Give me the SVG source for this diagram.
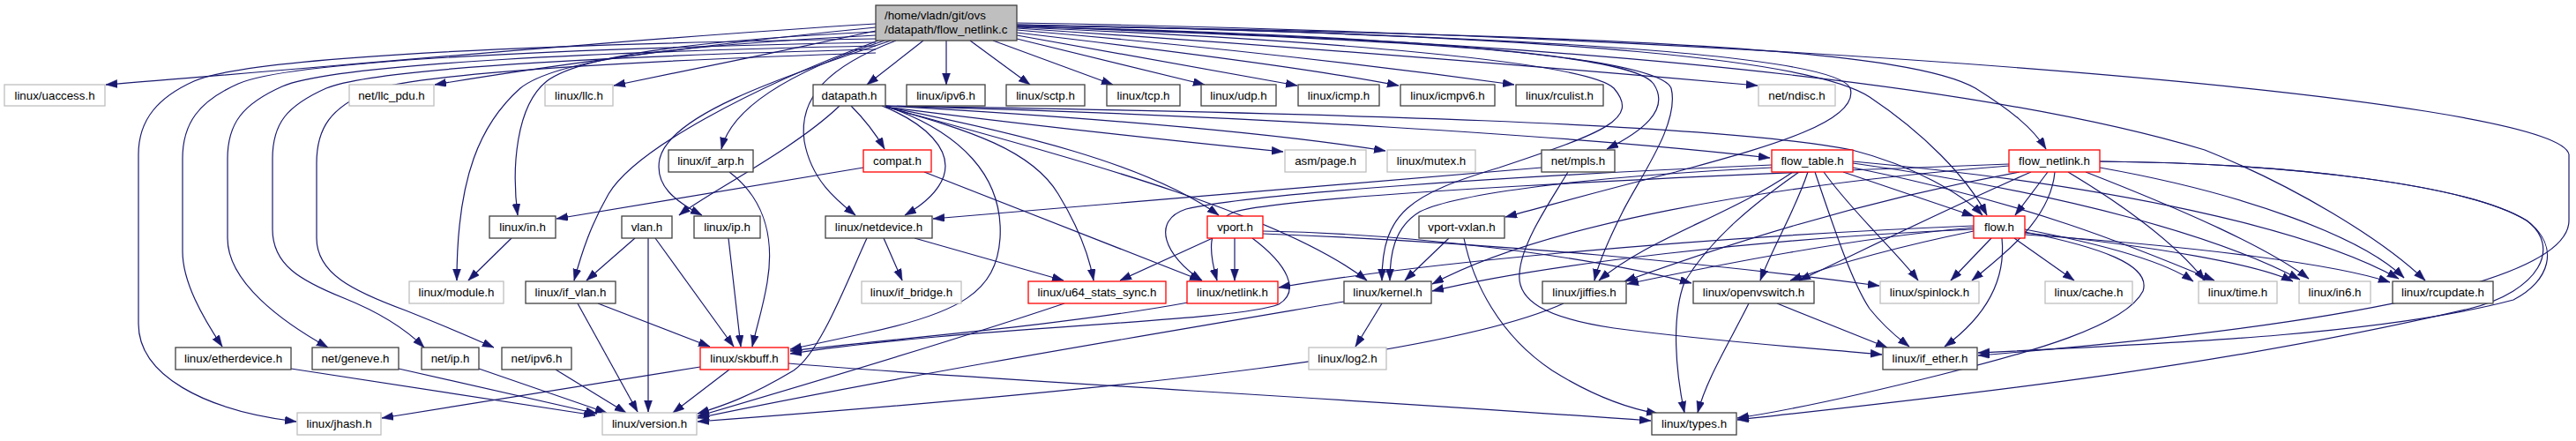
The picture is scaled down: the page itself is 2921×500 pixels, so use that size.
<svg xmlns="http://www.w3.org/2000/svg" width="2921" height="500" viewBox="0 0 2921 500">
<style>
text{font-family:"Liberation Sans",Arial,sans-serif;font-size:13.33px;fill:#000;text-anchor:middle}
.n rect{fill:#fff;stroke:#404040;stroke-width:1.3}
.r rect{fill:#fff;stroke:#ff0000;stroke-width:1.3}
.g rect{fill:#fff;stroke:#bfbfbf;stroke-width:1.3}
#edges path{fill:none;stroke:#191970;stroke-width:1.2;marker-end:url(#ah)}
</style>
<defs>
<marker id="ah" markerUnits="userSpaceOnUse" markerWidth="14" markerHeight="10" refX="13" refY="4.5" orient="auto">
<path d="M0,0 L13,4.5 L0,9 z" fill="#191970" stroke="#191970" stroke-width="0.5"/>
</marker>
</defs>
<rect width="2921" height="500" fill="#fff"/>
<g id="edges">
<path d="M993,27 C700,45 350,78 120,96"/>
<path d="M993,31 C800,50 600,78 493,96"/>
<path d="M993,35 C900,55 780,80 696,97"/>
<path d="M1047,46 L983,96"/>
<path d="M1073,46 L1073,96"/>
<path d="M1100,46 L1168,96"/>
<path d="M1126,46 L1262,96"/>
<path d="M1153,44 L1366,96"/>
<path d="M1153,40 L1471,97"/>
<path d="M1153,37 C1350,60 1500,80 1586,97"/>
<path d="M1153,34 C1400,55 1600,80 1717,96"/>
<path d="M1153,32 C1500,55 1800,80 1993,97"/>
<path d="M1153,29 C1900,40 2170,60 2240,100 C2280,125 2305,145 2320,169"/>
<path d="M1153,30 C1600,45 1850,60 1875,95 C1895,125 1860,150 1822,169"/>
<path d="M1153,31 C1500,45 1800,70 1830,100 C1860,135 1820,150 1700,190 C1600,220 1567,240 1567,318"/>
<path d="M1153,30 C1600,40 1880,65 1895,100 C1905,140 1860,200 1840,240 C1825,270 1812,300 1808,318"/>
<path d="M1153,28 C1700,40 2080,60 2098,100 C2110,140 1990,170 1900,195 C1800,220 1750,235 1707,246"/>
<path d="M1153,26 C2000,40 2900,110 2913,175 L2913,250 C2913,320 2650,370 2243,403"/>
<path d="M1153,30 C1900,50 2300,110 2500,170 C2600,210 2700,270 2750,318"/>
<path d="M1153,28 C1800,40 2060,70 2120,110 C2180,150 2230,200 2253,244"/>
<path d="M993,44 C600,50 280,65 220,92 C180,110 157,135 157,175 L157,367 C157,425 230,465 336,478"/>
<path d="M993,48 C650,55 330,68 270,95 C225,115 207,140 207,180 L207,285 C207,320 230,360 252,393"/>
<path d="M993,52 C700,58 380,72 320,98 C275,118 258,140 258,180 L258,270 C258,320 320,365 372,394"/>
<path d="M993,56 C750,62 430,75 370,100 C325,120 309,140 309,180 L309,260 C309,300 340,318 390,338 C440,358 465,378 481,394"/>
<path d="M993,60 C800,66 480,80 420,103 C375,122 359,145 359,185 L359,270 C359,310 400,330 460,352 C510,372 540,385 560,394"/>
<path d="M993,40 C760,52 630,68 590,100 C545,140 518,200 518,318"/>
<path d="M993,36 C800,45 660,62 620,92 C585,120 580,190 587,244"/>
<path d="M996,46 C850,100 720,170 690,220 C670,255 660,285 651,318"/>
<path d="M1003,46 C900,80 830,120 818,169"/>
<path d="M1010,46 C880,90 760,130 748,180 C742,210 765,228 796,244"/>
<path d="M1016,46 C940,75 905,110 912,160 C920,205 950,228 970,244"/>
<path d="M965,120 C985,140 995,155 1003,169"/>
<path d="M952,120 C900,170 800,220 770,244"/>
<path d="M1000,120 C1050,140 1080,170 1070,200 C1062,222 1040,236 1026,244"/>
<path d="M1004,120 C1090,150 1138,200 1134,270 C1130,330 1090,355 980,378 L896,396"/>
<path d="M1004,121 C1100,148 1170,170 1200,220 C1222,256 1235,290 1240,318"/>
<path d="M1004,121 C1150,150 1300,185 1382,244"/>
<path d="M1004,121 C1150,140 1350,162 1455,172"/>
<path d="M1004,120 C1250,134 1450,152 1571,171"/>
<path d="M1004,120 C1400,130 1800,155 2007,179"/>
<path d="M1004,120 C1500,128 1950,140 2100,170 C2170,188 2225,220 2248,244"/>
<path d="M1004,121 C1200,175 1450,240 1550,318"/>
<path d="M979,190 L631,248"/>
<path d="M1048,195 L1362,318"/>
<path d="M827,195 C860,220 880,260 870,320 C865,350 858,370 853,393"/>
<path d="M580,270 L531,318"/>
<path d="M720,270 L665,318"/>
<path d="M735,270 L735,467"/>
<path d="M743,270 L832,393"/>
<path d="M826,270 L840,393"/>
<path d="M1002,270 L1023,318"/>
<path d="M1037,270 L1206,318"/>
<path d="M983,270 C960,320 930,400 900,420 C850,450 820,460 791,469"/>
<path d="M1375,270 L1270,318"/>
<path d="M1400,270 L1400,318"/>
<path d="M1432,262 C1600,265 1800,290 1918,321"/>
<path d="M1432,265 C1700,275 1950,300 2131,324"/>
<path d="M1420,270 C1460,300 1475,330 1450,345 C1400,365 1100,370 896,401"/>
<path d="M1643,270 L1593,318"/>
<path d="M1660,270 C1670,320 1700,380 1760,420 C1800,445 1840,462 1880,469"/>
<path d="M1748,190 L1058,248"/>
<path d="M1778,195 C1760,225 1725,275 1723,310 C1720,340 1750,360 1830,372 C1950,388 2060,395 2134,402"/>
<path d="M2090,195 L2238,245"/>
<path d="M2009,187 C1700,200 1420,220 1345,237 C1305,250 1320,290 1363,318"/>
<path d="M2009,190 C1800,200 1650,220 1610,240 C1580,258 1576,290 1576,318"/>
<path d="M2033,195 C1960,245 1870,270 1813,318"/>
<path d="M2050,195 C2035,240 2010,280 1996,318"/>
<path d="M2058,195 C2080,260 2100,320 2120,350 C2140,375 2155,385 2165,393"/>
<path d="M2068,195 C2100,240 2150,285 2175,318"/>
<path d="M2101,190 C2300,230 2420,280 2511,318"/>
<path d="M2101,185 C2350,220 2520,270 2608,317"/>
<path d="M2101,183 C2400,210 2620,260 2720,316"/>
<path d="M2040,195 C1990,230 1940,270 1910,320 C1895,360 1900,420 1910,468"/>
<path d="M2322,195 L2285,244"/>
<path d="M2278,186 C1900,200 1480,220 1400,240 C1365,255 1372,290 1380,318"/>
<path d="M2278,188 C2000,210 1750,255 1624,322"/>
<path d="M2290,195 C2100,230 1950,280 1842,319"/>
<path d="M2303,195 C2200,240 2100,290 2040,318"/>
<path d="M2330,195 C2325,250 2270,290 2236,318"/>
<path d="M2345,195 C2420,240 2470,280 2500,318"/>
<path d="M2365,195 C2480,240 2570,280 2618,316"/>
<path d="M2381,190 C2550,220 2680,270 2726,315"/>
<path d="M2381,183 C2600,185 2800,210 2865,250 C2905,280 2890,320 2850,340 C2700,380 2450,390 2243,400"/>
<path d="M2381,183 C2600,185 2800,210 2865,250 C2905,280 2880,330 2800,350 C2500,420 2200,450 1970,476"/>
<path d="M2258,270 L2212,318"/>
<path d="M2270,270 C2275,320 2250,360 2205,393"/>
<path d="M2284,270 L2352,318"/>
<path d="M2296,260 C2400,280 2460,300 2487,319"/>
<path d="M2296,264 C2450,280 2560,300 2600,319"/>
<path d="M2296,266 C2500,280 2650,300 2710,320"/>
<path d="M2296,263 C2380,280 2440,300 2430,330 C2410,370 2300,400 2200,425 C2100,450 2030,465 1970,474"/>
<path d="M2238,262 C2150,280 2080,300 2030,318"/>
<path d="M2238,258 C2100,270 1950,300 1845,322"/>
<path d="M2238,260 C2000,270 1750,300 1624,330"/>
<path d="M2238,256 C1900,270 1600,300 1450,326"/>
<path d="M827,419 L763,468"/>
<path d="M794,416 L433,474"/>
<path d="M894,412 C1100,430 1500,450 1872,477"/>
<path d="M678,344 L805,393"/>
<path d="M655,344 L723,467"/>
<path d="M330,418 L675,471"/>
<path d="M452,418 L677,469"/>
<path d="M543,418 L688,468"/>
<path d="M630,419 L710,468"/>
<path d="M1207,344 C1100,380 900,440 791,472"/>
<path d="M1347,343 C1200,370 1000,385 896,398"/>
<path d="M1524,342 C1300,380 1000,430 791,474"/>
<path d="M1567,344 L1537,393"/>
<path d="M1773,344 C1650,400 1300,440 791,478"/>
<path d="M2015,344 L2140,394"/>
<path d="M1983,344 C1960,390 1935,430 1925,468"/>
</g>
<g id="root" class="n"><rect x="993" y="6" width="160" height="40" style="fill:#bfbfbf;stroke:#404040"/><text x="1003" y="22" style="text-anchor:start">/home/vladn/git/ovs</text><text x="1003" y="38" style="text-anchor:start">/datapath/flow_netlink.c</text></g>
<g id="uaccess" class="g"><rect x="5" y="96" width="114" height="24"/><text x="62" y="112.5">linux/uaccess.h</text></g>
<g id="llc_pdu" class="g"><rect x="396" y="96" width="96" height="24"/><text x="444" y="112.5">net/llc_pdu.h</text></g>
<g id="llc" class="g"><rect x="618" y="96" width="77" height="24"/><text x="656.5" y="112.5">linux/llc.h</text></g>
<g id="datapath" class="n"><rect x="922" y="96" width="82" height="24"/><text x="963" y="112.5">datapath.h</text></g>
<g id="ipv6" class="n"><rect x="1028" y="96" width="89" height="24"/><text x="1072.5" y="112.5">linux/ipv6.h</text></g>
<g id="sctp" class="n"><rect x="1141" y="96" width="89" height="24"/><text x="1185.5" y="112.5">linux/sctp.h</text></g>
<g id="tcp" class="n"><rect x="1255" y="96" width="83" height="24"/><text x="1296.5" y="112.5">linux/tcp.h</text></g>
<g id="udp" class="n"><rect x="1362" y="96" width="85" height="24"/><text x="1404.5" y="112.5">linux/udp.h</text></g>
<g id="icmp" class="n"><rect x="1472" y="96" width="92" height="24"/><text x="1518" y="112.5">linux/icmp.h</text></g>
<g id="icmpv6" class="n"><rect x="1588" y="96" width="107" height="24"/><text x="1641.5" y="112.5">linux/icmpv6.h</text></g>
<g id="rculist" class="n"><rect x="1719" y="96" width="99" height="24"/><text x="1768.5" y="112.5">linux/rculist.h</text></g>
<g id="ndisc" class="g"><rect x="1994" y="96" width="87" height="24"/><text x="2037.5" y="112.5">net/ndisc.h</text></g>
<g id="if_arp" class="n"><rect x="758" y="170" width="96" height="25"/><text x="806" y="187">linux/if_arp.h</text></g>
<g id="compat" class="r"><rect x="979" y="170" width="77" height="25"/><text x="1017.5" y="187">compat.h</text></g>
<g id="asm_page" class="g"><rect x="1457" y="170" width="92" height="25"/><text x="1503" y="187">asm/page.h</text></g>
<g id="mutex" class="g"><rect x="1573" y="170" width="100" height="25"/><text x="1623" y="187">linux/mutex.h</text></g>
<g id="mpls" class="n"><rect x="1748" y="170" width="83" height="25"/><text x="1789.5" y="187">net/mpls.h</text></g>
<g id="flow_table" class="r"><rect x="2009" y="170" width="92" height="25"/><text x="2055" y="187">flow_table.h</text></g>
<g id="flow_netlink_h" class="r"><rect x="2278" y="170" width="103" height="25"/><text x="2329.5" y="187">flow_netlink.h</text></g>
<g id="in" class="n"><rect x="555" y="245" width="75" height="25"/><text x="592.5" y="262">linux/in.h</text></g>
<g id="vlan" class="n"><rect x="705" y="245" width="57" height="25"/><text x="733.5" y="262">vlan.h</text></g>
<g id="ip" class="n"><rect x="787" y="245" width="75" height="25"/><text x="824.5" y="262">linux/ip.h</text></g>
<g id="netdevice" class="n"><rect x="936" y="245" width="121" height="25"/><text x="996.5" y="262">linux/netdevice.h</text></g>
<g id="vport" class="r"><rect x="1369" y="245" width="63" height="25"/><text x="1400.5" y="262">vport.h</text></g>
<g id="vport_vxlan" class="n"><rect x="1609" y="245" width="97" height="25"/><text x="1657.5" y="262">vport-vxlan.h</text></g>
<g id="flow" class="r"><rect x="2238" y="245" width="58" height="25"/><text x="2267" y="262">flow.h</text></g>
<g id="module" class="g"><rect x="464" y="319" width="107" height="25"/><text x="517.5" y="336">linux/module.h</text></g>
<g id="if_vlan" class="n"><rect x="596" y="319" width="102" height="25"/><text x="647" y="336">linux/if_vlan.h</text></g>
<g id="if_bridge" class="g"><rect x="977" y="319" width="113" height="25"/><text x="1033.5" y="336">linux/if_bridge.h</text></g>
<g id="u64" class="r"><rect x="1166" y="319" width="156" height="25"/><text x="1244" y="336">linux/u64_stats_sync.h</text></g>
<g id="netlink" class="r"><rect x="1346" y="319" width="103" height="25"/><text x="1397.5" y="336">linux/netlink.h</text></g>
<g id="kernel" class="n"><rect x="1524" y="319" width="99" height="25"/><text x="1573.5" y="336">linux/kernel.h</text></g>
<g id="jiffies" class="n"><rect x="1749" y="319" width="95" height="25"/><text x="1796.5" y="336">linux/jiffies.h</text></g>
<g id="openvswitch" class="n"><rect x="1920" y="319" width="137" height="25"/><text x="1988.5" y="336">linux/openvswitch.h</text></g>
<g id="spinlock" class="g"><rect x="2132" y="319" width="112" height="25"/><text x="2188" y="336">linux/spinlock.h</text></g>
<g id="cache" class="g"><rect x="2319" y="319" width="99" height="25"/><text x="2368.5" y="336">linux/cache.h</text></g>
<g id="time" class="g"><rect x="2493" y="319" width="89" height="25"/><text x="2537.5" y="336">linux/time.h</text></g>
<g id="in6" class="g"><rect x="2607" y="319" width="81" height="25"/><text x="2647.5" y="336">linux/in6.h</text></g>
<g id="rcupdate" class="n"><rect x="2713" y="319" width="114" height="25"/><text x="2770" y="336">linux/rcupdate.h</text></g>
<g id="etherdevice" class="n"><rect x="199" y="394" width="131" height="25"/><text x="264.5" y="411">linux/etherdevice.h</text></g>
<g id="geneve" class="n"><rect x="354" y="394" width="98" height="25"/><text x="403" y="411">net/geneve.h</text></g>
<g id="net_ip" class="n"><rect x="478" y="394" width="65" height="25"/><text x="510.5" y="411">net/ip.h</text></g>
<g id="net_ipv6" class="n"><rect x="569" y="394" width="79" height="25"/><text x="608.5" y="411">net/ipv6.h</text></g>
<g id="skbuff" class="r"><rect x="794" y="394" width="100" height="25"/><text x="844" y="411">linux/skbuff.h</text></g>
<g id="log2" class="g"><rect x="1484" y="394" width="88" height="25"/><text x="1528" y="411">linux/log2.h</text></g>
<g id="if_ether" class="n"><rect x="2135" y="394" width="107" height="25"/><text x="2188.5" y="411">linux/if_ether.h</text></g>
<g id="jhash" class="g"><rect x="337" y="468" width="95" height="25"/><text x="384.5" y="485">linux/jhash.h</text></g>
<g id="version" class="g"><rect x="683" y="468" width="107" height="25"/><text x="736.5" y="485">linux/version.h</text></g>
<g id="types" class="n"><rect x="1873" y="468" width="96" height="25"/><text x="1921" y="485">linux/types.h</text></g>
</svg>
